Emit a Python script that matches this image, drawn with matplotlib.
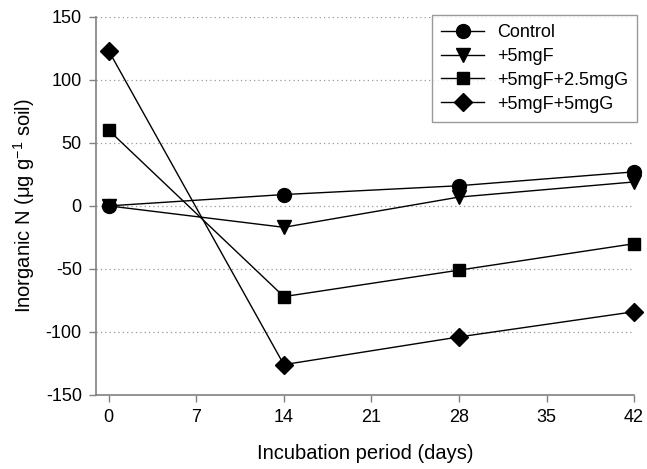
import matplotlib.pyplot as plt

plt.rcParams['font.family'] = ['Liberation Sans', 'DejaVu Sans']
plt.rcParams['axes.unicode_minus'] = False
plt.rcParams['mathtext.fontset'] = 'custom'
plt.rcParams['mathtext.rm'] = 'Liberation Sans'

days = [0, 14, 28, 42]
control = [0, 9, 16, 27]
f5 = [0, -17, 7, 19]
f5_g25 = [60, -72, -51, -30]
f5_g5 = [123, -126, -104, -84]

series = [
    ("Control", control, "o", 10),
    ("+5mgF", f5, "v", 10),
    ("+5mgF+2.5mgG", f5_g25, "s", 9),
    ("+5mgF+5mgG", f5_g5, "D", 9),
]

fig = plt.figure(figsize=(6.47, 4.69), dpi=100)
ax = fig.add_axes([0.148, 0.158, 0.832, 0.806])

for y in [-100, -50, 0, 50, 100, 150]:
    ax.plot([-1.04, 42], [y, y], color='#999999', ls=(0, (1, 2.5)), lw=0.9, zorder=1)

for name, vals, m, ms in series:
    ax.plot(days, vals, color='black', lw=1, marker=m, ms=ms,
            mfc='black', mec='black', label=name, clip_on=False, zorder=3)

ax.set_xlim(-1.04, 42)
ax.set_ylim(-150, 150)
ax.set_xticks([0, 7, 14, 21, 28, 35, 42])
ax.set_yticks([-150, -100, -50, 0, 50, 100, 150])

for s in ['top', 'right']:
    ax.spines[s].set_visible(False)
for s in ['left', 'bottom']:
    ax.spines[s].set_color('#808080')
    ax.spines[s].set_linewidth(1.2)
ax.tick_params(direction='out', length=5, width=1, color='#808080',
               labelsize=13, pad=5)

ax.set_xlabel("Incubation period (days)", fontsize=14.5, labelpad=13)
ax.set_ylabel("Inorganic N (μg g$^{\\mathrm{-1}}$ soil)", fontsize=14.5, labelpad=6)

leg = ax.legend(loc='upper right', bbox_to_anchor=(1.0056, 1.005), fontsize=13,
                frameon=True, fancybox=False, edgecolor='#808080',
                handlelength=2.4, labelspacing=0.38, borderpad=0.5,
                handletextpad=0.7, borderaxespad=0)
leg.get_frame().set_linewidth(1)

fig.savefig("out.png", dpi=100)
